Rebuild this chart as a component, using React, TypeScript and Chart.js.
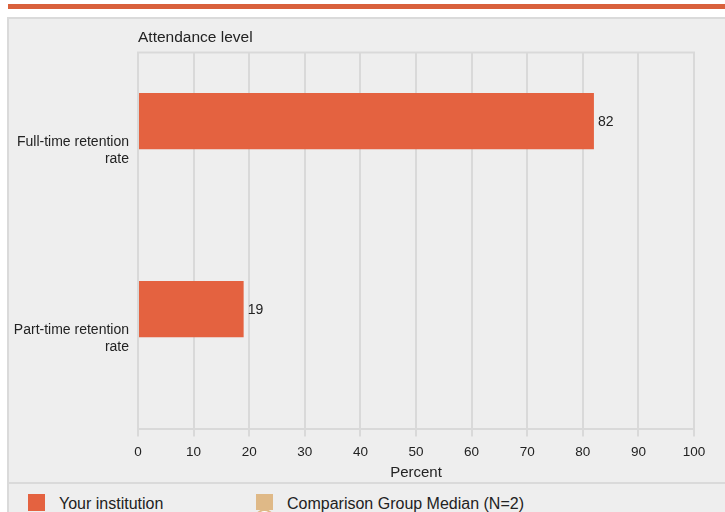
import React, { useEffect, useRef } from "react";
import { Chart, registerables } from "chart.js";

Chart.register(...registerables);

const categories: string[][] = [
  ["Full-time retention", "rate"],
  ["Part-time retention", "rate"],
];
const institutionValues: (number | null)[] = [82, 19];
const medianValues: (number | null)[] = [null, null];
const seriesNames = ["Your institution", "Comparison Group Median (N=2)"];
const yAxisTitle = "Attendance level";
const xAxisTitle = "Percent";
const xMin = 0;
const xMax = 100;
const xStep = 10;

const FONT = "'Liberation Sans', Arial, Helvetica, sans-serif";
const BAR_COLOR = "#e46240";
const MEDIAN_COLOR = "#dfb987";
const GRID = "#d9d9d9";
const PANEL_BG = "#eeeeee";

const valueLabelPlugin = {
  id: "valueLabels",
  afterDatasetsDraw(chart: any) {
    const ctx = chart.ctx;
    const meta = chart.getDatasetMeta(0);
    const data = chart.data.datasets[0].data;
    ctx.save();
    ctx.font = `14px ${FONT}`;
    ctx.fillStyle = "#222";
    ctx.textAlign = "left";
    ctx.textBaseline = "middle";
    meta.data.forEach((el: any, i: number) => {
      const v = data[i];
      if (v === null || v === undefined) return;
      ctx.fillText(String(v), el.x + 4, el.y + 1);
    });
    ctx.restore();
  },
};

const topBorderPlugin = {
  id: "topBorder",
  beforeDatasetsDraw(chart: any) {
    const { ctx, chartArea } = chart;
    ctx.save();
    ctx.strokeStyle = GRID;
    ctx.lineWidth = 2;
    ctx.beginPath();
    ctx.moveTo(chartArea.left - 1, chartArea.top);
    ctx.lineTo(chartArea.right + 1, chartArea.top);
    ctx.stroke();
    ctx.restore();
  },
};

export default function App() {
  const canvasRef = useRef<HTMLCanvasElement | null>(null);

  useEffect(() => {
    const canvas = canvasRef.current;
    if (!canvas) return;
    const chart = new Chart(canvas, {
      type: "bar",
      data: {
        labels: categories,
        datasets: [
          {
            label: seriesNames[0],
            data: institutionValues,
            backgroundColor: BAR_COLOR,
            borderWidth: 0,
            categoryPercentage: 0.54,
            barPercentage: 1.107,
          },
          {
            label: seriesNames[1],
            data: medianValues,
            backgroundColor: MEDIAN_COLOR,
            borderWidth: 0,
            categoryPercentage: 0.54,
            barPercentage: 1.107,
          },
        ],
      },
      options: {
        indexAxis: "y",
        responsive: false,
        animation: false,
        layout: { padding: { left: 10, right: 31, top: 0, bottom: 0 } },
        plugins: {
          legend: { display: false },
          tooltip: { enabled: false },
          title: {
            display: true,
            text: yAxisTitle,
            align: "start",
            fullSize: false,
            color: "#222",
            font: { family: FONT, size: 15.5, weight: "normal" },
            padding: { top: 28, bottom: 6 },
          },
        },
        scales: {
          x: {
            type: "linear",
            min: xMin,
            max: xMax,
            ticks: {
              stepSize: xStep,
              color: "#222",
              padding: 9,
              font: { family: FONT, size: 13.5, lineHeight: 1 },
            },
            grid: {
              color: GRID,
              lineWidth: 2,
              drawTicks: true,
              tickLength: 8,
            },
            border: { display: true, color: GRID, width: 2 },
            title: {
              display: true,
              text: xAxisTitle,
              color: "#222",
              font: { family: FONT, size: 15 },
              padding: { top: -4, bottom: 1 },
            },
          },
          y: {
            type: "category",
            ticks: {
              color: "#222",
              padding: 9,
              labelOffset: 4,
              font: { family: FONT, size: 14, lineHeight: 1.18 },
            },
            grid: { display: false, drawTicks: false },
            border: { display: false },
            afterFit: (scale: any) => {
              scale.width = 128;
            },
          },
        },
      },
      plugins: [valueLabelPlugin, topBorderPlugin],
    } as any);
    return () => chart.destroy();
  }, []);

  return (
    <div
      style={{
        position: "absolute",
        left: 0,
        top: 0,
        width: 725,
        height: 512,
        overflow: "hidden",
        background: "#ffffff",
        fontFamily: FONT,
      }}
    >
      <div
        style={{
          position: "absolute",
          left: 8,
          top: 4,
          width: 717,
          height: 5,
          background: "#d9613c",
        }}
      />
      <div
        style={{
          position: "absolute",
          left: 7,
          top: 17,
          width: 730,
          height: 520,
          background: PANEL_BG,
          borderTop: "2px solid #dadada",
          borderLeft: "2px solid #dadada",
          boxSizing: "border-box",
        }}
      />
      <div
        style={{
          position: "absolute",
          left: 9,
          top: 482,
          width: 720,
          height: 2,
          background: "#dadada",
        }}
      />
      <canvas
        ref={canvasRef}
        width={725}
        height={483}
        style={{ position: "absolute", left: 0, top: 0, width: 725, height: 483 }}
      />
      <div
        style={{
          position: "absolute",
          left: 28,
          top: 494,
          width: 17,
          height: 17,
          background: BAR_COLOR,
        }}
      />
      <div
        style={{
          position: "absolute",
          left: 59,
          top: 495,
          fontSize: 16,
          lineHeight: "17px",
          color: "#222",
          whiteSpace: "nowrap",
        }}
      >
        {seriesNames[0]}
      </div>
      <div
        style={{
          position: "absolute",
          left: 255,
          top: 509,
          width: 19,
          height: 19,
          borderRadius: "50%",
          border: `2px solid ${MEDIAN_COLOR}`,
          background: "#ffffff",
          boxSizing: "border-box",
        }}
      />
      <div
        style={{
          position: "absolute",
          left: 256,
          top: 494,
          width: 17,
          height: 16,
          background: MEDIAN_COLOR,
        }}
      />
      <div
        style={{
          position: "absolute",
          left: 287,
          top: 495,
          fontSize: 16,
          lineHeight: "17px",
          color: "#222",
          whiteSpace: "nowrap",
        }}
      >
        {seriesNames[1]}
      </div>
    </div>
  );
}
